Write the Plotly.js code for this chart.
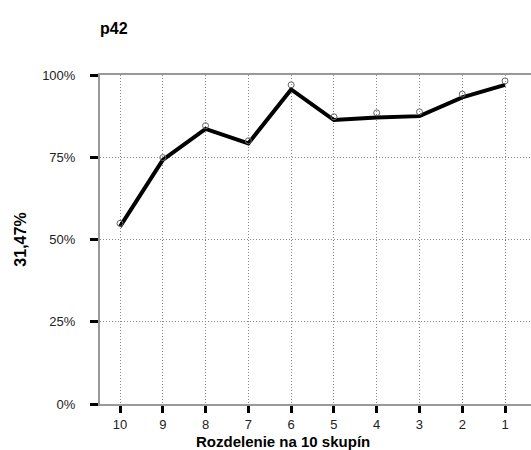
<!DOCTYPE html>
<html>
<head>
<meta charset="utf-8">
<script src="https://cdn.plot.ly/plotly-3.0.1.min.js"></script>
<style>html,body{margin:0;padding:0;background:#fff;}#chart{width:531px;height:450px;}</style>
</head>
<body>
<div id="chart"></div>
<script>
const categories = ["10","9","8","7","6","5","4","3","2","1"];
const lineValues = [0.539, 0.742, 0.836, 0.792, 0.956, 0.863, 0.871, 0.875, 0.932, 0.970];
const markerValues = [0.549, 0.749, 0.846, 0.800, 0.970, 0.873, 0.885, 0.888, 0.942, 0.982];
const yTickVals = [0, 0.25, 0.5, 0.75, 1];
const yTickText = ["0%", "25%", "50%", "75%", "100%"];
const chartTitle = "p42";
const yTitle = "31,47%";
const xTitle = "Rozdelenie na 10 skupín";

const font = "Liberation Sans, Arial, sans-serif";

const traces = [
  {x: categories, y: lineValues, type: "scatter", mode: "lines",
   line: {color: "#000", width: 4}, hoverinfo: "skip", showlegend: false},
  {x: categories, y: markerValues, type: "scatter", mode: "markers",
   marker: {symbol: "circle-open", size: 6, color: "#666", line: {width: 1, color: "#666"}},
   showlegend: false}
];

const layout = {
  width: 531, height: 450,
  margin: {l: 100, r: 0, t: 75, b: 46, pad: 0},
  paper_bgcolor: "#fff", plot_bgcolor: "#fff",
  font: {family: font, size: 13, color: "#222"},
  showlegend: false,
  title: {text: "<b>" + chartTitle + "</b>", font: {family: font, size: 16, color: "#000"},
          x: 0, xref: "paper", xanchor: "left", y: 1 - 28/450, yref: "container", yanchor: "middle"},
  xaxis: {
    type: "category", range: [-0.4675, 9.607],
    showline: true, linecolor: "#999", linewidth: 2, mirror: true,
    ticks: "outside", ticklen: 7, tickwidth: 3, tickcolor: "#000",
    showgrid: true, gridcolor: "#888", griddash: "1px,2px", gridwidth: 1,
    tickfont: {family: font, size: 13, color: "#222"},
    ticklabelstandoff: 0,
    zeroline: false, fixedrange: true
  },
  yaxis: {
    range: [0, 1], tickvals: yTickVals, ticktext: yTickText,
    showline: true, linecolor: "#999", linewidth: 2,
    ticks: "outside", ticklen: 8, tickwidth: 3, tickcolor: "#000",
    showgrid: true, gridcolor: "#888", griddash: "1px,2px", gridwidth: 1,
    tickfont: {family: font, size: 13, color: "#222"},
    ticklabelstandoff: 12,
    zeroline: false, fixedrange: true,
    title: {text: "<b>" + yTitle + "</b>", font: {family: font, size: 16, color: "#000"}, standoff: 12}
  },
  annotations: [
    {text: "<b>" + xTitle + "</b>", xref: "paper", yref: "paper",
     x: (283 - 100) / 431, y: -(441.5 - 404) / 329, xanchor: "center", yanchor: "middle",
     showarrow: false, font: {family: font, size: 15, color: "#000"}}
  ]
};

Plotly.newPlot("chart", traces, layout, {displayModeBar: false, staticPlot: true});
</script>
</body>
</html>
